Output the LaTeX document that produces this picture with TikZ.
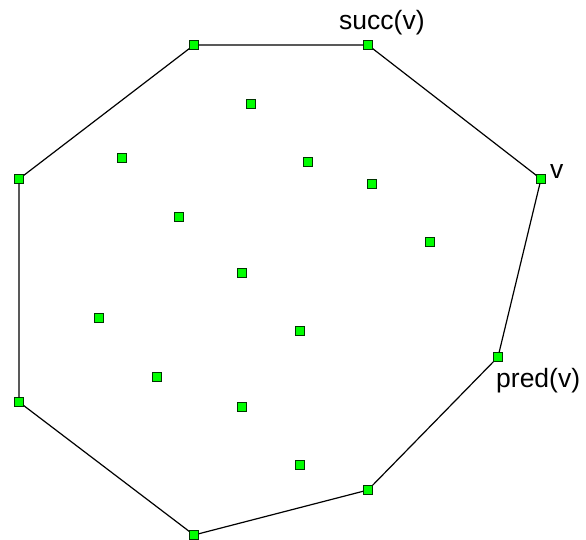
\documentclass[tikz,border=0pt]{standalone}
\usepackage{fontspec}
\setmainfont{Liberation Sans}
\definecolor{ptgreen}{RGB}{0,255,0}
\begin{document}
\begin{tikzpicture}[x=1pt,y=-1pt,
  pt/.style={draw=black!80!green,fill=ptgreen,line width=0.8pt,minimum size=9.5pt,inner sep=0pt,outer sep=0pt},
  hull/.style={line width=1.2pt,black},
  lbl/.style={anchor=base west,inner sep=0pt,font=\fontsize{26.5}{30}\selectfont}]
\useasboundingbox (0,0) rectangle (586,540);
% hull vertices
\node[pt] (h1) at (194,45) {};
\node[pt] (h2) at (368,45) {};
\node[pt] (h3) at (541,179) {};
\node[pt] (h4) at (498,357) {};
\node[pt] (h5) at (368,490) {};
\node[pt] (h6) at (194,535) {};
\node[pt] (h7) at (19,402) {};
\node[pt] (h8) at (19,179) {};
\draw[hull] (h1) -- (h2) -- (h3) -- (h4) -- (h5) -- (h6) -- (h7) -- (h8) -- (h1);
% interior points
\node[pt] (p1) at (251,104) {};
\node[pt] (p2) at (122,158) {};
\node[pt] (p3) at (308,162) {};
\node[pt] (p4) at (372,184) {};
\node[pt] (p5) at (179,217) {};
\node[pt] (p6) at (430,242) {};
\node[pt] (p7) at (242,273) {};
\node[pt] (p8) at (99,318) {};
\node[pt] (p9) at (300,331) {};
\node[pt] (p10) at (157,377) {};
\node[pt] (p11) at (242,407) {};
\node[pt] (p12) at (300,465) {};
% labels
\node[lbl] (ls) at (339,30) {succ(v)};
\node[lbl] (lv) at (550,179) {v};
\node[lbl] (lp) at (496,387) {pred(v)};
\end{tikzpicture}
\end{document}
